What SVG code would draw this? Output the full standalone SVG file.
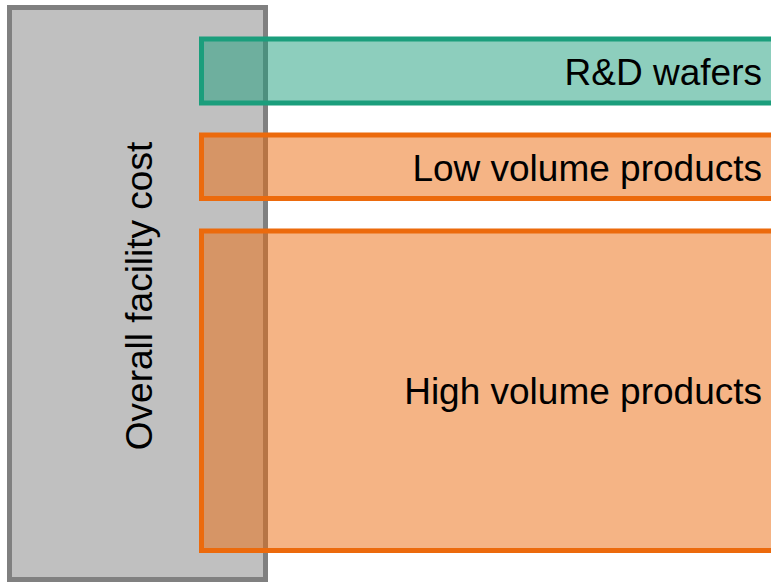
<svg xmlns="http://www.w3.org/2000/svg" width="771" height="582" viewBox="0 0 771 582">
  <style>
    .label { font-family: "Liberation Sans", Arial, sans-serif; font-size: 37px; fill: #000000; }
    .facility { fill: #c0c0c0; stroke: #808080; stroke-width: 5; }
    .teal { fill: #1b9e7c; fill-opacity: 0.5; stroke: #1b9e7c; stroke-width: 5; }
    .orange { fill: #ec6a0c; fill-opacity: 0.5; stroke: #ec6a0c; stroke-width: 5; }
  </style>
  <rect width="771" height="582" fill="#ffffff"/>

  <!-- Overall facility cost (background block) -->
  <g id="facility">
    <rect class="facility" x="9.5" y="7.5" width="256" height="572"/>
    <text class="label" transform="translate(152 296) rotate(-90)" text-anchor="middle">Overall facility cost</text>
  </g>

  <!-- R&D wafers -->
  <g id="rd-wafers">
    <rect class="teal" x="201.5" y="39" width="600" height="64"/>
    <text class="label" x="762" y="84.5" text-anchor="end">R&amp;D wafers</text>
  </g>

  <!-- Low volume products -->
  <g id="low-volume">
    <rect class="orange" x="201.5" y="135" width="600" height="63.5"/>
    <text class="label" x="762" y="181" text-anchor="end">Low volume products</text>
  </g>

  <!-- High volume products -->
  <g id="high-volume">
    <rect class="orange" x="201.5" y="231" width="600" height="319.5"/>
    <text class="label" x="762" y="403.5" text-anchor="end">High volume products</text>
  </g>

  <g id="connectors"/>
</svg>
